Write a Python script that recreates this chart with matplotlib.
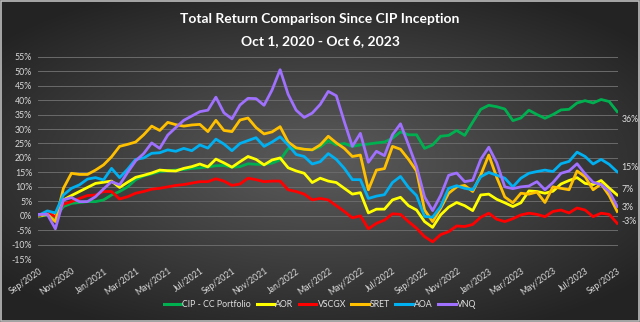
import numpy as np
import pandas as pd
import matplotlib
matplotlib.use("Agg")
import matplotlib.pyplot as plt
import matplotlib.dates as mdates
from matplotlib.patches import Rectangle

plt.rcParams['font.family'] = ['Lato', 'DejaVu Sans']

start_date, end_date = '2020-10-01', '2023-10-06'

series_names = ['CIP - CC Portfolio', 'AOR', 'VSCGX', 'SRET', 'AOA', 'VNQ']
series_colors = ['#00B050', '#FFFF00', '#FF0000', '#FFC000', '#00B0F0', '#A070FF']

cip = [-0.3, 0.5, -0.6, 3.2, 4.3, 4.6, 4.9, 4.9, 5.5, 7.2,
       8.4, 10, 12.5, 13.8, 14.5, 15.3, 15.6, 15.8, 16, 16.4,
       16.6, 16.9, 17.3, 17.4, 16.8, 17, 18, 17.8, 17.8, 18.2,
       19.3, 23.2, 23.3, 23, 22.8, 23.8, 26, 24.5, 25, 24,
       24.5, 24.8, 25.2, 25.5, 26.8, 29, 28, 28, 23.3, 24.5,
       27.5, 27.8, 29.5, 27.8, 32.4, 36.8, 38.2, 37.7, 36.9, 32.9,
       33.8, 36.5, 35, 33.7, 35, 36.6, 36.8, 39, 39.8, 39,
       40.2, 39.5, 36]
aor = [0, 0.5, 0.3, 5.5, 7, 8.4, 9.8, 11.2, 11.6, 12,
       9.8, 11.6, 13.3, 14, 14.8, 15.8, 15.6, 15.5, 16.4, 17,
       17.9, 16.9, 19.6, 18.3, 16.8, 18.7, 20.5, 19.5, 17.6, 19.3,
       20, 16.6, 15.5, 14.7, 11.5, 13, 12, 11.5, 9.5, 7.5,
       8, 1, 2.3, 2.3, 5.5, 6.4, 3.5, 2, -2, -4,
       0.3, 3, 4.6, 3.5, 1.8, 7.2, 7.5, 5.7, 4.5, 3.2,
       4.5, 8.6, 8.4, 7.8, 8.5, 11, 12.2, 13.2, 11.2, 10.8,
       12.2, 9.6, 7.2]
vscgx = [0, 1.2, -0.3, 4, 4.9, 6, 7, 7.2, 8.4, 8.4,
         5.8, 6.6, 7.8, 8.4, 9.2, 9.5, 10, 10.5, 10.8, 11.3,
         11.8, 11.8, 12.8, 12, 10.5, 11, 13, 12.5, 11.8, 12,
         12, 9, 8.4, 7.5, 5.5, 6, 5.5, 3.5, 1.5, -0.7,
         0, -4.5, -2.6, -1.5, 0.7, 0.5, -2, -4.3, -7.2, -9,
         -6.5, -5.5, -3.5, -3.7, -3, -0.5, 0.9, -1.2, -2, -1,
         0.3, 0.9, 0.5, -0.3, 1.5, 2, 1, 2.7, 2, -0.3,
         0.9, 0.5, -2.6]
sret = [0.3, 0.5, -2, 9.5, 14.7, 14.3, 14.3, 15.8, 17.6, 20.4,
        24, 24.7, 25.5, 28, 31, 29.5, 32.3, 31.5, 31, 31.4,
        31.6, 29.1, 33, 29.5, 29.1, 33.1, 33.8, 30.5, 28.3, 29,
        30.8, 25.5, 23.5, 23, 22.8, 24.5, 27.5, 25.2, 23.3, 20.5,
        21, 9, 15.8, 16.3, 24, 23, 19.5, 15.5, 2, -2,
        2.6, 7.8, 10, 10.5, 8.4, 14.1, 21, 13.2, 6.5, 4.5,
        7.8, 7.5, 8.2, 4.6, 10, 9.5, 9, 15.5, 13.5, 9,
        11, 7, 1.5]
aoa = [0.3, 1.7, 1, 7.2, 9.5, 10.7, 12.7, 13.2, 12.4, 16.4,
       13.2, 16.1, 19.5, 20, 21.6, 21.8, 22.8, 22.3, 23.3, 22.5,
       24.5, 23.4, 26.5, 24.8, 22.5, 25, 26, 27, 24, 25.5,
       27.3, 24.5, 21.2, 20.5, 17.9, 18.7, 21.5, 19.5, 16.4, 12.5,
       12.5, 6, 6.8, 7.3, 11.5, 13.6, 9.8, 7, -0.2, -0.5,
       3.2, 9.5, 10.4, 9.5, 9, 13.5, 15, 14, 13, 10,
       13, 14.7, 15.3, 15.8, 15.3, 18, 18.8, 22, 20.5, 17.9,
       19.5, 17.8, 15.2]
vnq = [0.5, 0.5, -4.5, 5.5, 6.3, 4.9, 4.9, 6.6, 9.3, 11.8,
       10.7, 15, 19, 21.5, 25.2, 23.3, 27.9, 30.5, 33, 34.5,
       36, 36.5, 41, 35.6, 33.5, 38.3, 40.6, 40.5, 38.2, 43.5,
       50.5, 42, 36.5, 34, 35.5, 38.5, 43, 41.5, 32.5, 24,
       28.5, 18.5, 22.3, 20.8, 28, 31.8, 24.5, 17, 6.5, 1.8,
       7, 14, 14.8, 11.8, 12.3, 19.5, 23.7, 18.3, 10, 9.4,
       10, 10.3, 11.8, 9, 11.5, 14.7, 15.5, 18, 14.5, 11.6,
       10.8, 8.5, 3.2]

labelled_series = [True, True, True, False, True, True]

tick_labels = ['Sep/2020', 'Nov/2020', 'Jan/2021', 'Mar/2021', 'May/2021', 'Jul/2021',
               'Sep/2021', 'Nov/2021', 'Jan/2022', 'Mar/2022', 'May/2022', 'Jul/2022',
               'Sep/2022', 'Nov/2022', 'Jan/2023', 'Mar/2023', 'May/2023', 'Jul/2023',
               'Sep/2023']

all_series = [cip, aor, vscgx, sret, aoa, vnq]
dates = pd.date_range(start_date, end_date, periods=len(cip))

fig = plt.figure(figsize=(6.4, 3.22), dpi=100)

# background radial gradient
bg = fig.add_axes([0, 0, 1, 1], zorder=-10)
yy, xx = np.mgrid[-1:1:200j, -1:1:400j]
r = np.sqrt((xx * 1.0) ** 2 + (yy * 1.1) ** 2)
v = np.clip(0.36 - 0.17 * r, 0.14, 0.4)
img = np.dstack([v, v, v])
bg.imshow(img, extent=[0, 1, 0, 1], aspect='auto', origin='lower')
bg.set_xlim(0, 1); bg.set_ylim(0, 1)
bg.axis('off')
fig.patches.append(Rectangle((0.002, 0.003), 0.996, 0.994, transform=fig.transFigure,
                             fill=False, edgecolor='#bdbdbd', linewidth=1.2))

ax = fig.add_axes([0.059, 0.195, 0.907, 0.629])
ax.set_facecolor('none')
for s, name, col in zip(all_series, series_names, series_colors):
    ax.plot(dates, s, color=col, linewidth=2.0, label=name, solid_joinstyle='round')

ax.set_ylim(-15, 55)
ax.set_yticks(np.arange(-15, 56, 5))
ax.set_yticklabels([f'{t}%' for t in np.arange(-15, 56, 5)])
ax.set_xlim(dates[0] - pd.Timedelta(days=3), dates[-1] + pd.Timedelta(days=2))
tick_pos = pd.date_range(start_date, end_date, periods=len(tick_labels))
ax.set_xticks(tick_pos)
ax.set_xticklabels(tick_labels, rotation=35, ha='right', va='top', rotation_mode='anchor')
ax.grid(axis='y', color='#6a6a6a', linewidth=0.7)
ax.set_axisbelow(True)
for sp in ax.spines.values():
    sp.set_visible(False)
ax.tick_params(axis='both', length=0, colors='#d9d9d9', labelsize=6.3)
ax.tick_params(axis='x', pad=5)
ax.tick_params(axis='y', pad=4)

# end labels
offsets = {0: -6, 1: 4, 2: 1, 4: 3, 5: -1}
for i, (s, lab) in enumerate(zip(all_series, labelled_series)):
    if lab:
        ax.annotate(f'{round(s[-1])}%', xy=(dates[-1], s[-1]), xytext=(3, offsets.get(i, 0)),
                    textcoords='offset points', color='#e0e0e0', fontsize=6.3,
                    va='center', ha='left', annotation_clip=False)

leg = fig.legend(loc='center', bbox_to_anchor=(0.5, 0.055), ncol=6, frameon=False,
                 fontsize=6.3, handlelength=2.0, handletextpad=0.15, columnspacing=0.6,
                 labelcolor='#e0e0e0')
for h in leg.get_lines():
    h.set_linewidth(2.2)

fig.text(0.5, 0.94, 'Total Return Comparison Since CIP Inception', ha='center', va='center',
         color='white', fontsize=10, fontweight='bold')
fig.text(0.5, 0.872, 'Oct 1, 2020 - Oct 6, 2023', ha='center', va='center',
         color='white', fontsize=10, fontweight='bold')

fig.savefig('out.png', dpi=100)
